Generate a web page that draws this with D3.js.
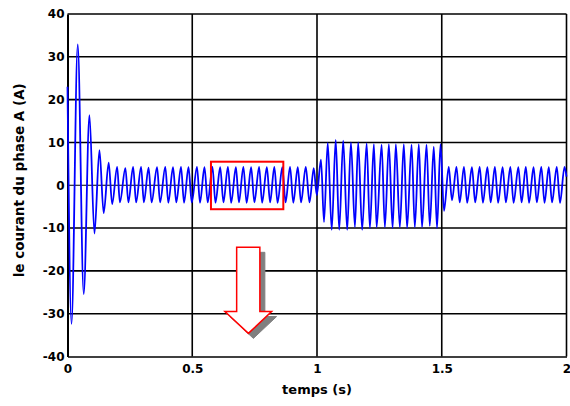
<!DOCTYPE html>
<html>
<head>
<meta charset="utf-8">
<script src="https://cdn.jsdelivr.net/npm/d3@7"></script>
<style>
  html, body { margin: 0; padding: 0; background: #fff; }
  svg { display: block; }
  text { font-family: "DejaVu Sans", Verdana, sans-serif; font-weight: bold; fill: #000; }
</style>
</head>
<body>
<svg id="chart" width="570" height="406"></svg>
<script>
// Phase A current: successive extremes (time in s, current in A)
const times = [
  0.000, 0.016, 0.041, 0.065, 0.088, 0.108, 0.128, 0.145, 0.165, 0.179,
  0.199, 0.210, 0.232, 0.244, 0.263, 0.275, 0.295, 0.306, 0.325, 0.337,
  0.359, 0.371, 0.392, 0.404, 0.423, 0.436, 0.455, 0.467, 0.485, 0.498,
  0.519, 0.531, 0.549, 0.562, 0.581, 0.593, 0.612, 0.625, 0.643, 0.656,
  0.675, 0.687, 0.705, 0.718, 0.736, 0.749, 0.768, 0.780, 0.799, 0.812,
  0.829, 0.842, 0.861, 0.874, 0.892, 0.905, 0.923, 0.936, 0.955, 0.970,
  0.987, 0.999, 1.016, 1.028, 1.043, 1.059, 1.075, 1.089, 1.105, 1.121,
  1.136, 1.152, 1.165, 1.181, 1.199, 1.212, 1.228, 1.239, 1.259, 1.272,
  1.288, 1.303, 1.316, 1.332, 1.348, 1.361, 1.379, 1.392, 1.408, 1.421,
  1.439, 1.452, 1.468, 1.481, 1.495, 1.509, 1.528, 1.541, 1.559, 1.572,
  1.589, 1.602, 1.621, 1.634, 1.652, 1.665, 1.683, 1.696, 1.713, 1.726,
  1.744, 1.757, 1.775, 1.788, 1.807, 1.820, 1.837, 1.850, 1.868, 1.881,
  1.899, 1.912, 1.929, 1.942, 1.961, 1.974, 1.992, 2.000
];
const current = [
  23.0, -32.4, 32.9, -25.4, 16.4, -11.3, 8.2, -6.5, 5.3, -4.4,
  4.3, -4.0, 4.0, -4.0, 4.3, -4.0, 4.3, -4.0, 4.1, -4.0,
  4.2, -4.0, 4.3, -4.1, 4.2, -4.0, 4.3, -4.1, 4.2, -4.0,
  4.3, -4.1, 4.2, -4.0, 4.3, -4.1, 4.2, -4.0, 4.3, -4.1,
  4.2, -4.0, 4.3, -4.1, 4.2, -4.0, 4.3, -4.1, 4.2, -4.0,
  4.3, -4.1, 4.2, -4.0, 4.3, -4.1, 4.2, -4.0, 4.3, -4.0,
  4.0, -2.3, 6.0, -8.6, 9.9, -10.4, 10.6, -10.4, 10.4, -10.4,
  10.0, -9.8, 10.0, -10.4, 9.8, -10.0, 9.6, -9.8, 9.5, -9.8,
  9.6, -10.0, 9.6, -9.8, 9.6, -10.0, 9.5, -9.8, 9.6, -9.8,
  9.5, -9.5, 9.0, -10.0, 9.6, -6.0, 4.3, -3.5, 4.3, -4.0,
  4.3, -4.1, 4.2, -4.0, 4.3, -4.1, 4.2, -4.0, 4.3, -4.1,
  4.2, -4.0, 4.3, -4.1, 4.2, -4.0, 4.3, -4.1, 4.2, -4.0,
  4.3, -4.1, 4.2, -4.0, 4.3, -4.1, 4.3, 2.0
];

const xTicks = [0, 0.5, 1, 1.5, 2];
const xTickLabels = ["0", "0.5", "1", "1.5", "2"];
const yTicks = [-40, -30, -20, -10, 0, 10, 20, 30, 40];
const yTickLabels = ["-40", "-30", "-20", "-10", "0", "10", "20", "30", "40"];

// Zoom window highlighted on the steady-state part: [t0, t1, i0, i1]
const zoomWindow = [0.575, 0.865, -5.6, 5.5];
// Down arrow below it (time in s, current in A)
const arrowShaft = [0.678, 0.771];
const arrowHead = [0.631, 0.818];
const arrowTip = [0.725, -34.6];
const arrowLevels = [-14.5, -29.5];

const width = 570, height = 406;
const margin = { top: 14, right: 3.5, bottom: 49.5, left: 67.5 };
const iw = width - margin.left - margin.right;
const ih = height - margin.top - margin.bottom;

const svg = d3.select("#chart");
const g = svg.append("g").attr("transform", `translate(${margin.left},${margin.top})`);

const x = d3.scaleLinear().domain([0, 2]).range([0, iw]);
const y = d3.scaleLinear().domain([-40, 40]).range([ih, 0]);

// Grid
g.append("g").selectAll("line").data(yTicks.filter(v => v !== 0 && v !== -40))
  .join("line")
  .attr("x1", 0).attr("x2", iw)
  .attr("y1", d => y(d)).attr("y2", d => y(d))
  .attr("stroke", "#000").attr("stroke-width", 1.6);
g.append("g").selectAll("line").data(xTicks.filter(v => v !== 0))
  .join("line")
  .attr("x1", d => x(d)).attr("x2", d => x(d))
  .attr("y1", 0).attr("y2", ih)
  .attr("stroke", "#000").attr("stroke-width", 1.6);
g.append("line")
  .attr("x1", 0).attr("x2", iw).attr("y1", y(0)).attr("y2", y(0))
  .attr("stroke", "#000").attr("stroke-width", 1);

// Axes
const xAxis = d3.axisBottom(x).tickValues(xTicks)
  .tickFormat((d, i) => xTickLabels[i]).tickSize(0).tickPadding(8);
const gx = g.append("g").attr("transform", `translate(0,${ih})`).call(xAxis);
gx.select(".domain").attr("stroke", "#000").attr("stroke-width", 1.6);
gx.selectAll("text").style("font-size", "12px").style("font-weight", "bold")
  .style("font-family", "'DejaVu Sans', Verdana, sans-serif");

const yAxis = d3.axisLeft(y).tickValues(yTicks)
  .tickFormat((d, i) => yTickLabels[i]).tickSize(0).tickPadding(3);
const gy = g.append("g").call(yAxis);
gy.select(".domain").attr("stroke", "#000").attr("stroke-width", 2);
gy.selectAll("text").style("font-size", "12px").style("font-weight", "bold")
  .style("font-family", "'DejaVu Sans', Verdana, sans-serif");

// Signal
const pts = times.map((t, i) => [t, current[i]]);
const line = d3.line().x(d => x(d[0])).y(d => y(d[1])).curve(d3.curveMonotoneX);
g.append("path").datum(pts)
  .attr("d", line)
  .attr("fill", "none")
  .attr("stroke", "#0000ff")
  .attr("stroke-width", 1.8)
  .attr("stroke-linejoin", "round");

// Highlight rectangle
g.append("rect")
  .attr("x", x(zoomWindow[0])).attr("y", y(zoomWindow[3]))
  .attr("width", x(zoomWindow[1]) - x(zoomWindow[0]))
  .attr("height", y(zoomWindow[2]) - y(zoomWindow[3]))
  .attr("fill", "none").attr("stroke", "#ff0000").attr("stroke-width", 2);

// Arrow with drop shadow
const arrowPts = [
  [arrowShaft[0], arrowLevels[0]], [arrowShaft[1], arrowLevels[0]],
  [arrowShaft[1], arrowLevels[1]], [arrowHead[1], arrowLevels[1]],
  [arrowTip[0], arrowTip[1]],
  [arrowHead[0], arrowLevels[1]], [arrowShaft[0], arrowLevels[1]]
].map(p => [x(p[0]), y(p[1])]);
const poly = d3.line().curve(d3.curveLinearClosed);
g.append("path").attr("d", poly(arrowPts))
  .attr("transform", "translate(5,5)")
  .attr("fill", "#808080").attr("stroke", "#808080").attr("stroke-width", 1);
g.append("path").attr("d", poly(arrowPts))
  .attr("fill", "#ffffff").attr("stroke", "#ff0000").attr("stroke-width", 1.5)
  .attr("stroke-linejoin", "miter");

// Axis titles
svg.append("text")
  .attr("x", margin.left + iw / 2).attr("y", 394)
  .attr("text-anchor", "middle").style("font-size", "13px")
  .text("temps (s)");
svg.append("text")
  .attr("transform", `translate(24,${margin.top + ih / 2 - 5}) rotate(-90)`)
  .attr("text-anchor", "middle").style("font-size", "13.5px")
  .text("le courant du phase A (A)");
</script>
</body>
</html>
